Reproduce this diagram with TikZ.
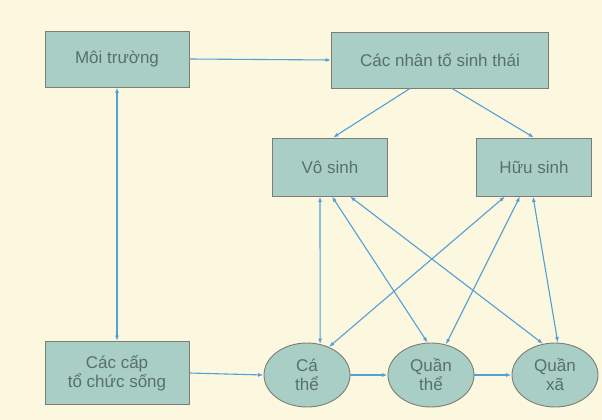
\documentclass[tikz,border=0pt]{standalone}
\usepackage{fontspec}
\setmainfont{Liberation Sans}
\usetikzlibrary{arrows.meta, shapes.geometric, positioning}
\definecolor{paper}{RGB}{252,248,224}
\definecolor{boxfill}{RGB}{168,206,197}
\definecolor{boxline}{RGB}{125,125,115}
\definecolor{boxtext}{RGB}{88,112,108}
\definecolor{linkblue}{RGB}{82,160,214}

\begin{document}
\begin{tikzpicture}[
  x=1pt, y=1pt,
  >={Latex[length=5.5pt, width=4pt]},
  font=\fontsize{17}{19}\selectfont,
  box/.style={draw=boxline, fill=boxfill, line width=0.9pt, text=boxtext,
              align=center, inner sep=0pt},
  cell/.style={ellipse, draw=boxline, fill=boxfill, line width=0.9pt,
               text=boxtext, align=center, inner sep=0pt,
               minimum width=86pt, minimum height=64pt},
  link/.style={linkblue, line width=1.1pt, ->},
  dlink/.style={linkblue, line width=1.1pt, <->}
]
  \fill[paper] (0,0) rectangle (602,-420);
  \useasboundingbox (0,0) rectangle (602,-420);

  \node[box, minimum width=144pt, minimum height=56pt] (moi) at (117,-59)
    {Môi trường};
  \node[box, minimum width=217pt, minimum height=56pt] (nhan) at (440,-60)
    {Các nhân tố sinh thái};
  \node[box, minimum width=115pt, minimum height=58pt] (vo) at (330,-167)
    {Vô sinh};
  \node[box, minimum width=115pt, minimum height=58pt] (huu) at (534,-167)
    {Hữu sinh};
  \node[box, minimum width=144pt, minimum height=63pt] (cap) at (117,-373)
    {Các cấp\\tổ chức sống};
  \node[cell] (ca) at (307,-375) {Cá\\thể};
  \node[cell] (qthe) at (431,-375) {Quần\\thể};
  \node[cell] (qxa) at (555,-375) {Quần\\xã};

  \draw[link] (moi.east) -- (nhan.west);
  \draw[dlink] (moi.south) -- (cap.north);
  \draw[link] ([xshift=-30pt]nhan.south) -- ([xshift=3pt]vo.north);
  \draw[link] ([xshift=12pt]nhan.south) -- (huu.north);

  \draw[dlink] ([xshift=-10pt]vo.south) -- (ca.67);
  \draw[dlink] ([xshift=2pt]vo.south) -- (qthe.96);
  \draw[dlink] ([xshift=20pt]vo.south) -- (qxa.111);
  \draw[dlink] ([xshift=-29pt]huu.south) -- (ca.52);
  \draw[dlink] ([xshift=-14pt]huu.south) -- (qthe.64);
  \draw[dlink] ([xshift=-1pt]huu.south) -- (qxa.85);

  \draw[link] (cap.east) -- (ca.west);
  \draw[link] (ca.east) -- (qthe.west);
  \draw[link] (qthe.east) -- (qxa.west);
\end{tikzpicture}
\end{document}
